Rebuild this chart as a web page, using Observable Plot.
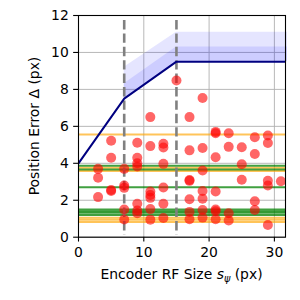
<!DOCTYPE html>
<html>
<head>
<meta charset="utf-8">
<script src="https://cdn.jsdelivr.net/npm/d3@7"></script>
<script src="https://cdn.jsdelivr.net/npm/@observablehq/plot@0.6"></script>
<style>
  html, body { margin: 0; padding: 0; background: white; }
</style>
</head>
<body>
<div id="chart"></div>
<script>
// Scatter points (encoder RF size, position error)
const pointX = [
  3, 3, 3,
  5, 5, 5, 5,
  7, 7, 7, 7, 7,
  9, 9, 9, 9, 9, 9, 9,
  11, 11, 11, 11, 11, 11, 11,
  13, 13, 13, 13, 13, 13,
  15,
  17, 17, 17, 17, 17, 17, 17,
  19, 19, 19, 19, 19, 19, 19,
  21, 21, 21, 21, 21, 21, 21,
  23, 23, 23, 23,
  25, 25, 25,
  27, 27, 27, 27,
  29, 29, 29, 29, 29,
  31
];
const pointY = [
  3.7, 3.22, 2.17,
  5.22, 4.3, 2.55, 2.5,
  3.7, 2.8, 2.67, 1.5, 0.96,
  5.11, 4.3, 4.0, 3.83, 1.81, 1.45, 1.3,
  6.5, 4.93, 2.47, 2.28, 2.13, 1.52, 0.95,
  5.06, 4.86, 3.97, 2.69, 1.81, 1.04,
  8.48,
  6.5, 4.7, 3.1, 3.05, 2.05, 1.37, 0.97,
  7.53, 4.83, 3.61, 2.5, 2.08, 1.47, 1.06,
  5.7, 5.63, 4.33, 2.47, 1.5, 1.4, 0.97,
  5.63, 4.89, 1.3, 0.9,
  4.87, 3.95, 3.11,
  5.41, 4.5, 1.95, 1.47,
  5.5, 5.1, 3.05, 2.8, 0.66,
  3.03
];

// Bound curve
const curveX = [0, 7, 15, 32];
const curveY = [4, 7.5, 9.5, 9.5];

// Uncertainty bands above the curve
const bandX = [7, 15, 32];
const bandLow = [7.5, 9.5, 9.5];
const bandMid = [8.3, 10.3, 10.3];
const bandHigh = [9.2, 11.1, 11.1];

// Dashed vertical markers
const dashX = [7, 15];

// Horizontal reference levels
const orangeLevels = [5.56, 3.76, 3.58, 1.05, 0.95, 0.82];
const greenLevels = [3.87, 3.66, 2.71, 1.50, 1.40, 1.32, 1.20];

// Ticks
const xTicks = [0, 10, 20, 30];
const yTicks = [0, 2, 4, 6, 8, 10, 12];

const points = pointX.map((x, i) => ({x, y: pointY[i]}));
const curve = curveX.map((x, i) => ({x, y: curveY[i]}));
const band = bandX.map((x, i) => ({x, lo: bandLow[i], mid: bandMid[i], hi: bandHigh[i]}));

const chart = Plot.plot({
  width: 300,
  height: 300,
  marginLeft: 78,
  marginRight: 15,
  marginTop: 15,
  marginBottom: 63.3,
  style: {fontFamily: "DejaVu Sans", fontSize: "13.9px", color: "black", background: "white"},
  x: {domain: [0, 31.7]},
  y: {domain: [0, 12]},
  marks: [
    Plot.gridX(xTicks, {stroke: "#b0b0b0", strokeOpacity: 1, strokeWidth: 0.9}),
    Plot.gridY(yTicks, {stroke: "#b0b0b0", strokeOpacity: 1, strokeWidth: 0.9}),
    Plot.areaY(band, {x: "x", y1: "lo", y2: "hi", fill: "blue", fillOpacity: 0.1}),
    Plot.areaY(band, {x: "x", y1: "lo", y2: "mid", fill: "blue", fillOpacity: 0.1}),
    Plot.ruleY(orangeLevels, {stroke: "orange", strokeOpacity: 0.65, strokeWidth: 2}),
    Plot.ruleY(greenLevels, {stroke: "green", strokeOpacity: 0.75, strokeWidth: 2}),
    Plot.ruleX(dashX, {y1: 11.73, y2: 0.1, stroke: "gray", strokeWidth: 2.6, strokeDasharray: "9.4 4"}),
    Plot.line(curve, {x: "x", y: "y", stroke: "navy", strokeWidth: 2, clip: true}),
    Plot.dot(points, {x: "x", y: "y", r: 5, fill: "red", fillOpacity: 0.6, stroke: null}),
    Plot.frame({stroke: "black", strokeWidth: 1.1}),
    Plot.axisX(xTicks, {tickSize: 4.86, tickPadding: 5.3, label: null, fontSize: 13.9, strokeWidth: 1.1}),
    Plot.axisY(yTicks, {tickSize: 4.86, tickPadding: 4.86, label: null, fontSize: 13.9, strokeWidth: 1.1})
  ]
});

document.getElementById("chart").appendChild(chart);

const svg = d3.select(chart);
const xl = svg.append("text")
  .attr("x", 181.5)
  .attr("y", 279)
  .attr("text-anchor", "middle")
  .attr("font-family", "DejaVu Sans")
  .attr("font-size", "13.9px")
  .attr("fill", "black");
xl.append("tspan").text("Encoder RF Size ");
xl.append("tspan").attr("font-style", "italic").text("s");
xl.append("tspan").attr("font-style", "italic").attr("font-size", "9.7px").attr("dy", "3").text("ψ");
xl.append("tspan").attr("dy", "-3").text(" (px)");

svg.append("text")
  .attr("transform", "translate(39.3,126) rotate(-90)")
  .attr("text-anchor", "middle")
  .attr("font-family", "DejaVu Sans")
  .attr("font-size", "13.9px")
  .attr("fill", "black")
  .text("Position Error Δ (px)");
</script>
</body>
</html>
